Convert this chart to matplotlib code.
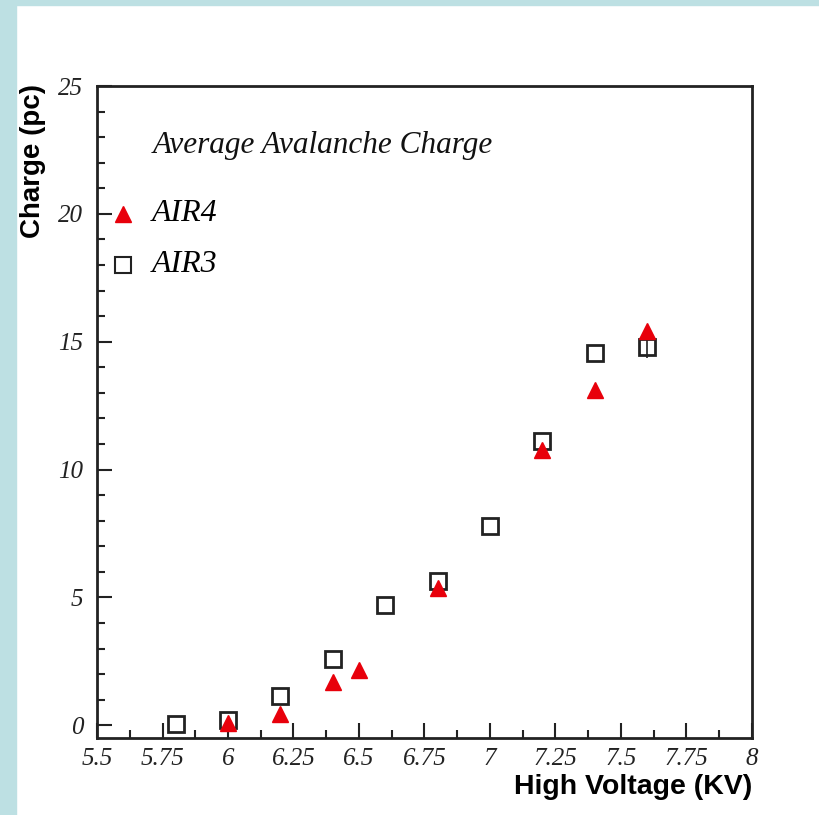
import matplotlib.pyplot as plt
import matplotlib.patches as patches
from matplotlib.ticker import MultipleLocator
import numpy as np

# data
hv_air3 = [5.8, 6.0, 6.2, 6.4, 6.6, 6.8, 7.0, 7.2, 7.4, 7.6]
charge_air3 = [0.05, 0.2, 1.15, 2.6, 4.7, 5.65, 7.8, 11.1, 14.55, 14.8]
# only the last error bar sticks out of the marker
err_air3 = [0, 0, 0, 0, 0, 0, 0, 0, 0, 0.45]

hv_air4 = [6.0, 6.2, 6.4, 6.5, 6.8, 7.2, 7.4, 7.6]
charge_air4 = [0.1, 0.45, 1.7, 2.15, 5.35, 10.75, 13.1, 15.4]

serif = ['Liberation Serif', 'DejaVu Serif']
sans = ['Liberation Sans', 'DejaVu Sans']

fig = plt.figure(figsize=(8.2, 8.15), dpi=100)

# light blue frame on left and top
fig.patches.append(patches.Rectangle((0, 0), 16 / 820, 1, transform=fig.transFigure,
                                     color='#bde0e3', zorder=-1))
fig.patches.append(patches.Rectangle((0, 1 - 5 / 815), 1, 5 / 815, transform=fig.transFigure,
                                     color='#bde0e3', zorder=-1))

ax = fig.add_axes([97 / 820, 1 - 738 / 815, (752 - 97) / 820, (738 - 86) / 815])

# AIR3 open squares
ax.errorbar(hv_air3, charge_air3, yerr=err_air3, fmt='s', ms=12, mfc='none',
            mec='#222222', mew=2, ecolor='#222222', elinewidth=1.2, capsize=0, zorder=3)
# AIR4 red triangles
ax.plot(hv_air4, charge_air4, '^', ms=12, color='#e8000b', mec='#e8000b', zorder=4)

ax.set_xlim(5.5, 8)
ax.set_ylim(-0.5, 25)

ax.xaxis.set_major_locator(MultipleLocator(0.25))
ax.xaxis.set_minor_locator(MultipleLocator(0.125))
ax.yaxis.set_major_locator(MultipleLocator(5))
ax.yaxis.set_minor_locator(MultipleLocator(1))

ax.tick_params(which='both', direction='in', top=False, right=False, width=1.5, color='#222222')
ax.tick_params(which='major', length=11)
ax.tick_params(which='minor', length=6)
ax.tick_params(axis='x', pad=7)
ax.tick_params(axis='y', pad=10)

xt = np.arange(5.5, 8.01, 0.25)
ax.set_xticks(xt)
ax.set_xticklabels(['5.5', '5.75', '6', '6.25', '6.5', '6.75', '7', '7.25', '7.5', '7.75', '8'])
for lab in ax.get_xticklabels() + ax.get_yticklabels():
    lab.set_family(serif)
    lab.set_style('italic')
    lab.set_fontsize(18)
    lab.set_color('#222222')

for s in ax.spines.values():
    s.set_linewidth(2)
    s.set_color('#222222')

ax.set_xlabel('High Voltage (KV)', family=sans, fontweight='bold', fontsize=20.5)
ax.xaxis.set_label_coords(1.0, -0.055)
ax.xaxis.label.set_horizontalalignment('right')
ax.xaxis.label.set_verticalalignment('top')

fig.text(33 / 820, 1 - 84 / 815, 'Charge (pc)', rotation=90, ha='center', va='top',
         family=sans, fontweight='bold', fontsize=20)

# title text inside the axes
ax.text(0.085, 0.908, 'Average Avalanche Charge', transform=ax.transAxes,
        family=serif, style='italic', fontsize=22.5, va='center', color='#111111')

# hand-made legend
ax.plot([5.6], [20], '^', ms=11, color='#e8000b', mec='#e8000b', clip_on=False)
ax.plot([5.6], [18], 's', ms=11, mfc='none', mec='#222222', mew=1.5)
ax.text(5.71, 20, 'AIR4', family=serif, style='italic', fontsize=23, va='center')
ax.text(5.71, 18, 'AIR3', family=serif, style='italic', fontsize=23, va='center')

fig.savefig('out.png', dpi=100)
